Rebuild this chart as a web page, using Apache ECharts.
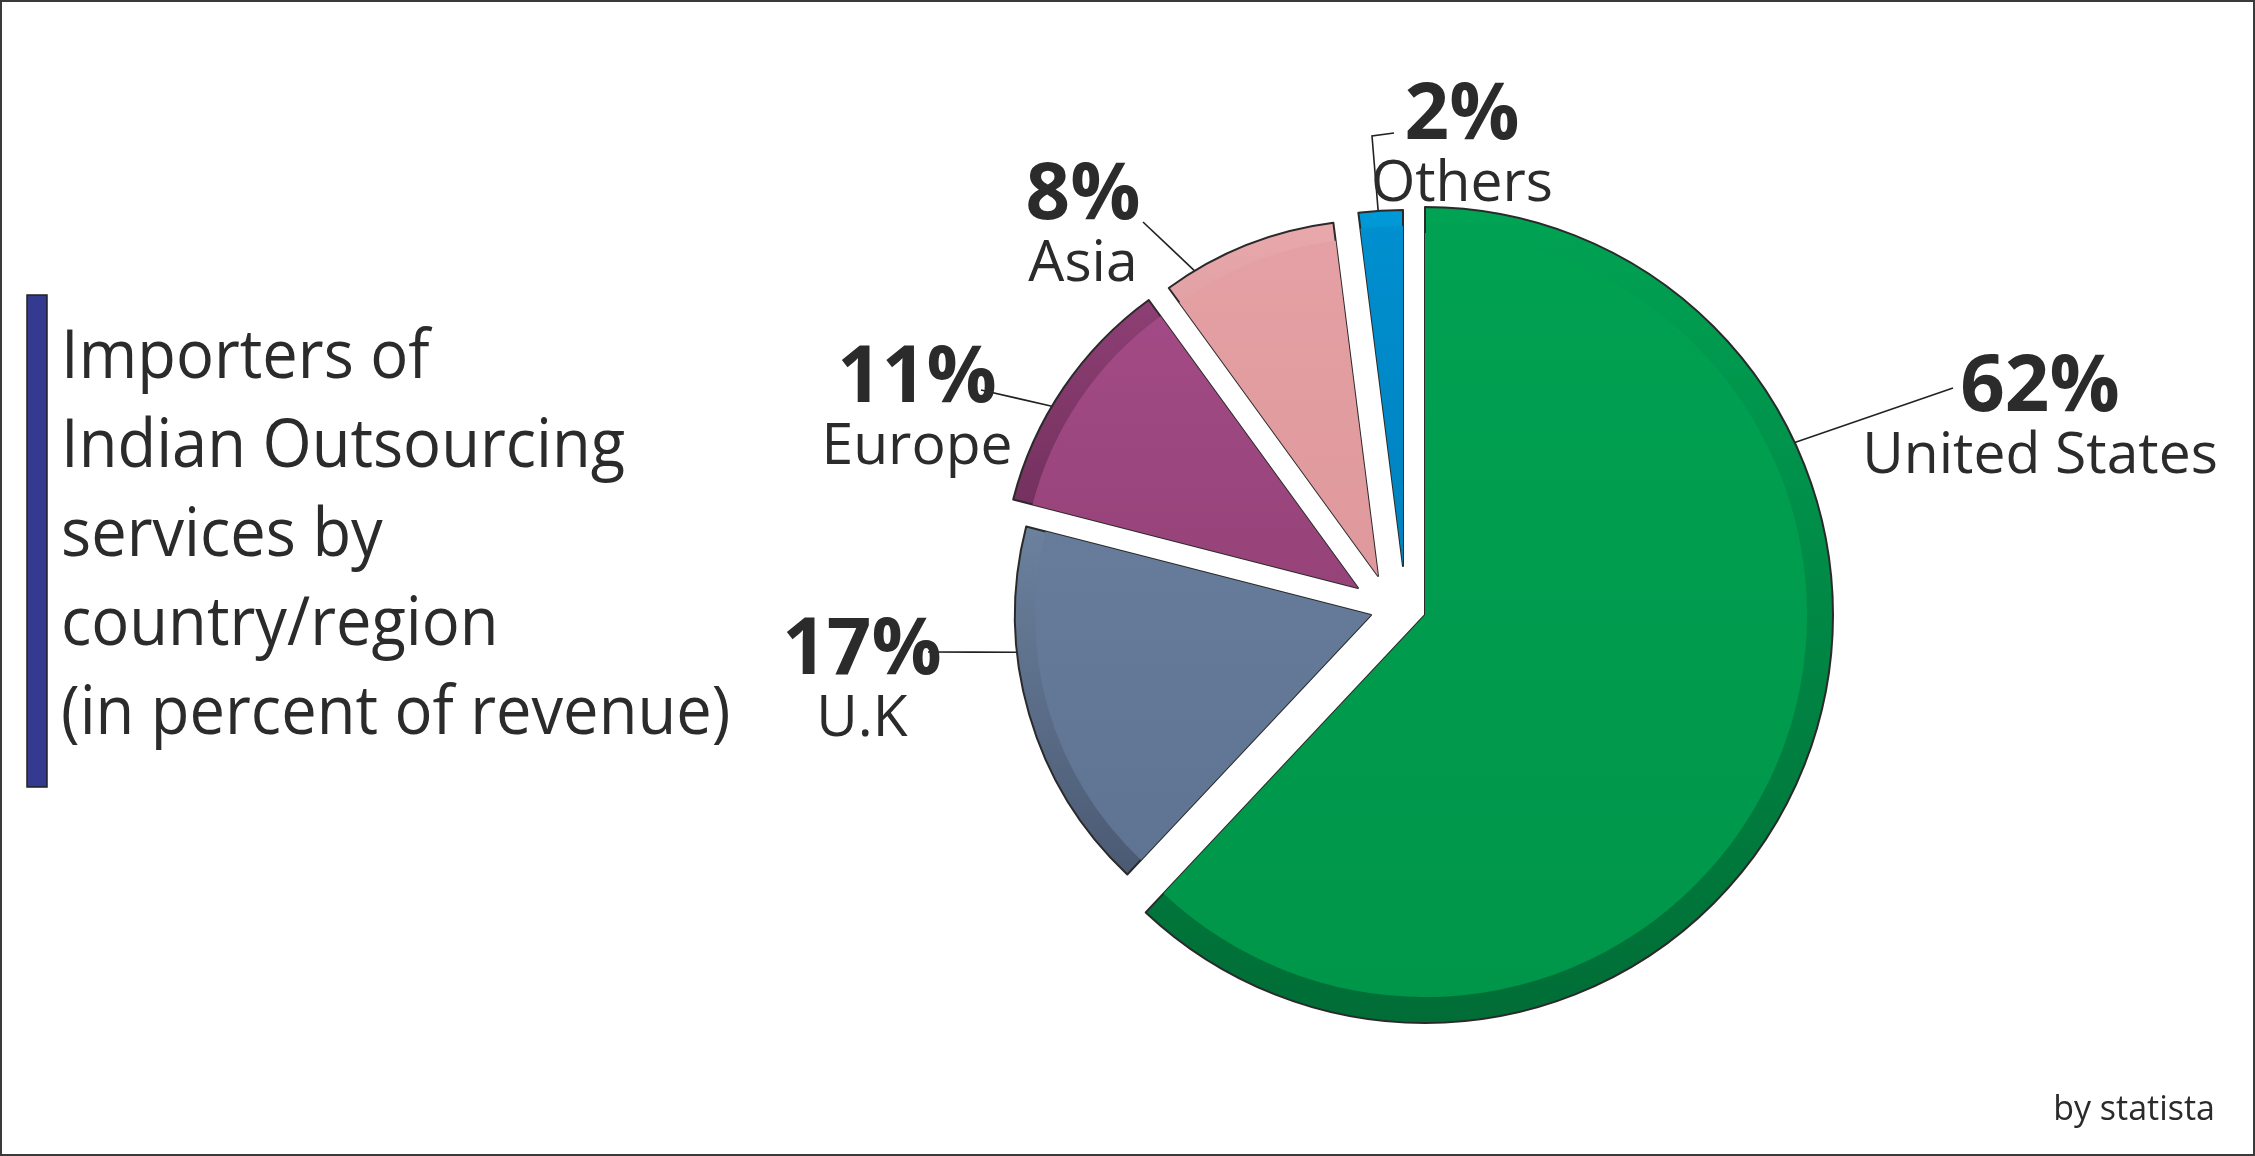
<!DOCTYPE html>
<html>
<head>
<meta charset="utf-8">
<title>Importers of Indian Outsourcing services</title>
<script src="https://cdn.jsdelivr.net/npm/echarts@6/dist/echarts.min.js"></script>
<style>
  html, body { margin: 0; padding: 0; background: #ffffff; }
  #main { width: 2255px; height: 1156px; }
</style>
</head>
<body>
<div id="main"></div>
<script>
// data
var categories = ["United States", "U.K", "Europe", "Asia", "Others"];
var shares = [62, 17, 11, 8, 2];

// look of each slice: face colour (top, bottom) and bevel band colour (top, bottom)
var faceColors = [["#00a152", "#00964a"], ["#677c9a", "#5f7492"], ["#a24a85", "#964379"], ["#e4a0a4", "#df999d"], ["#008fcf", "#0082bf"]];
var bandColors = [["#00a354", "#006d36"], ["#6b819e", "#4b5a73"], ["#8e3f74", "#6a2b56"], ["#e9a8ab", "#c98c8f"], ["#009ad8", "#006a9f"]];
var apex = [[1425, 615], [1371, 615], [1358, 588], [1378, 576], [1403, 566]];
var radii = [408, 356, 356, 356, 356];
var bevel = [26, 20, 20, 18, 16];

// label placement
var labelAnchors = [[2040, 354], [862, 617], [917, 345], [1083, 162], [1462, 82]];
var lineStartAngle = [65, 264, 300.7, 329, 356];
var lineBend = [null, null, null, null, [1372, 136]];
var lineEnds = [[1953, 388], [928, 652], [981, 390], [1143, 222], [1394, 133]];

var FONT = '"Open Sans", "Noto Sans", sans-serif';
var TEXT = "#2b2b2b";

var myChart = echarts.init(document.getElementById("main"), null, { renderer: "canvas" });

function vgrad(pair) {
  return new echarts.graphic.LinearGradient(0, 0, 0, 1, [
    { offset: 0, color: pair[0] },
    { offset: 1, color: pair[1] }
  ]);
}

function sliceData(own, layer) {
  return categories.map(function (name, j) {
    var visible = j === own;
    return {
      name: name,
      value: shares[j],
      itemStyle: visible
        ? {
            color: vgrad(layer === 0 ? bandColors[j] : faceColors[j]),
            borderColor: layer === 0 ? "#2a2a2a" : "rgba(0,0,0,0)",
            borderWidth: layer === 0 ? 2 : 0
          }
        : { color: "rgba(0,0,0,0)", borderWidth: 0 },
      label: { show: visible && layer === 0 },
      labelLine: { show: visible && layer === 0 }
    };
  });
}

var series = [];
[0, 1].forEach(function (layer) {
  categories.forEach(function (c, i) {
    series.push({
      type: "pie",
      name: c,
      center: apex[i],
      radius: [0, layer === 0 ? radii[i] : radii[i] - bevel[i]],
      startAngle: 90,
      clockwise: true,
      silent: true,
      animation: false,
      avoidLabelOverlap: false,
      z: 2 + layer,
      label: {
        position: "outside",
        formatter: function (p) {
          return "{p|" + p.value + "%}\n{n|" + p.name + "}";
        },
        rich: {
          p: { fontFamily: FONT, fontSize: 78, fontWeight: "bold", color: TEXT, lineHeight: 70, align: "center" },
          n: { fontFamily: FONT, fontSize: 57, color: TEXT, lineHeight: 66, align: "center" }
        }
      },
      labelLine: {
        show: true,
        smooth: false,
        lineStyle: { color: "#222222", width: 1.6 }
      },
      labelLayout: function (params) {
        var k = params.dataIndex;
        var a = lineStartAngle[k] * Math.PI / 180;
        var p0 = [apex[k][0] + radii[k] * Math.sin(a), apex[k][1] - radii[k] * Math.cos(a)];
        var p2 = lineEnds[k];
        var p1 = lineBend[k] || [(p0[0] + p2[0]) / 2, (p0[1] + p2[1]) / 2];
        return {
          x: labelAnchors[k][0],
          y: labelAnchors[k][1],
          align: "center",
          verticalAlign: "top",
          labelLinePoints: [p0, p1, p2]
        };
      },
      data: sliceData(i, layer)
    });
  });
});

myChart.setOption({
  backgroundColor: "#ffffff",
  animation: false,
  graphic: [
    {
      type: "rect",
      shape: { x: 1, y: 1, width: 2253, height: 1154 },
      style: { fill: "none", stroke: "#3a3a3a", lineWidth: 2 },
      silent: true
    },
    {
      type: "rect",
      shape: { x: 27, y: 295, width: 20, height: 492 },
      style: { fill: "#333a8f", stroke: "#222222", lineWidth: 1.5 },
      silent: true
    },
    {
      type: "text",
      x: 61,
      y: 314,
      scaleX: 0.93,
      style: {
        text: "Importers of\nIndian Outsourcing\nservices by\ncountry/region\n(in percent of revenue)",
        font: "68px " + FONT,
        fill: TEXT,
        lineHeight: 89
      },
      silent: true
    },
    {
      type: "text",
      x: 2215,
      y: 1110,
      style: {
        text: "by statista",
        font: "34px " + FONT,
        fill: TEXT,
        align: "right",
        verticalAlign: "middle"
      },
      silent: true
    }
  ],
  series: series
});
</script>
</body>
</html>
